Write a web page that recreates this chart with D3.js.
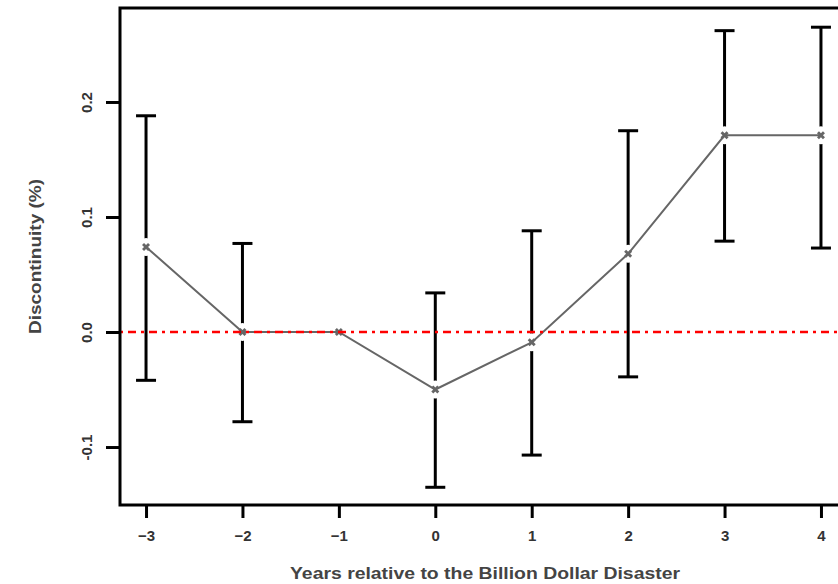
<!DOCTYPE html>
<html>
<head>
<meta charset="utf-8">
<script src="https://cdn.jsdelivr.net/npm/d3@7"></script>
<style>
  body { margin: 0; background: #fff; }
  svg { display: block; font-family: "Liberation Sans", Arial, sans-serif; }
</style>
</head>
<body>
<svg id="chart"></svg>
<script>
// Event-study estimates
const years = [-3, -2, -1, 0, 1, 2, 3, 4];
const estimate = [0.074, 0.000, 0.000, -0.050, -0.009, 0.068, 0.171, 0.171];
const lower = [-0.042, -0.078, null, -0.135, -0.107, -0.039, 0.079, 0.073];
const upper = [0.188, 0.077, null, 0.034, 0.088, 0.175, 0.262, 0.265];
const yTicks = [-0.1, 0.0, 0.1, 0.2];
const yTickLabels = ["-0.1", "0.0", "0.1", "0.2"];
const xTickLabels = ["\u22123", "\u22122", "\u22121", "0", "1", "2", "3", "4"];

const width = 838, height = 584;
const plotLeft = 120, plotRight = 847, plotTop = 8, plotBottom = 505;

const svg = d3.select("#chart")
    .attr("width", width)
    .attr("height", height);

// R style padded domains
const x = d3.scaleLinear().domain([-3.27, 4.27]).range([plotLeft, plotRight]);
const y = d3.scaleLinear().domain([-0.1504, 0.2817]).range([plotBottom, plotTop]);

const rows = years.map((yr, i) => ({ yr: yr, est: estimate[i], lo: lower[i], hi: upper[i] }));

// Error bars
const bars = svg.append("g").attr("stroke", "#000").attr("stroke-width", 3);
rows.filter(d => d.lo !== null).forEach(d => {
    bars.append("line")
        .attr("x1", x(d.yr)).attr("x2", x(d.yr))
        .attr("y1", y(d.lo)).attr("y2", y(d.hi));
    bars.append("line")
        .attr("x1", x(d.yr) - 10).attr("x2", x(d.yr) + 10)
        .attr("y1", y(d.lo)).attr("y2", y(d.lo));
    bars.append("line")
        .attr("x1", x(d.yr) - 10).attr("x2", x(d.yr) + 10)
        .attr("y1", y(d.hi)).attr("y2", y(d.hi));
});

// White halo around points (gaps in the bars)
svg.append("g").selectAll("circle").data(rows)
    .enter().append("circle")
    .attr("cx", d => x(d.yr))
    .attr("cy", d => y(d.est))
    .attr("r", 9)
    .attr("fill", "#fff");

// Connecting line
svg.append("path")
    .datum(rows)
    .attr("fill", "none")
    .attr("stroke", "#666")
    .attr("stroke-width", 2)
    .attr("d", d3.line().x(d => x(d.yr)).y(d => y(d.est)));

// Point markers
const star = d3.symbol().type(d3.symbolCross).size(40);
svg.append("g").selectAll("path").data(rows)
    .enter().append("path")
    .attr("transform", d => `translate(${x(d.yr)},${y(d.est)}) rotate(45)`)
    .attr("d", star)
    .attr("fill", "#666");

// Zero reference line
svg.append("line")
    .attr("x1", plotLeft).attr("x2", width)
    .attr("y1", y(0)).attr("y2", y(0))
    .attr("stroke", "#ff0000")
    .attr("stroke-width", 2.5)
    .attr("stroke-dasharray", "3,5,8,5");

// Plot frame
svg.append("rect")
    .attr("x", plotLeft).attr("y", plotTop)
    .attr("width", plotRight - plotLeft).attr("height", plotBottom - plotTop)
    .attr("fill", "none")
    .attr("stroke", "#000")
    .attr("stroke-width", 3);

// Axes
const xAxis = svg.append("g")
    .attr("transform", `translate(0,${plotBottom})`)
    .call(d3.axisBottom(x).tickValues(years).tickSize(13).tickPadding(12)
        .tickFormat((d, i) => xTickLabels[i]));
xAxis.select(".domain").remove();
xAxis.selectAll("line").attr("stroke-width", 3);
xAxis.selectAll("text")
    .style("font-size", "15px")
    .style("font-weight", "bold")
    .attr("fill", "#333");

const yAxis = svg.append("g")
    .attr("transform", `translate(${plotLeft},0)`)
    .call(d3.axisLeft(y).tickValues(yTicks).tickSize(14).tickPadding(0)
        .tickFormat((d, i) => yTickLabels[i]));
yAxis.select(".domain").remove();
yAxis.selectAll("line").attr("stroke-width", 3);
yAxis.selectAll("text")
    .style("font-size", "15px")
    .style("font-weight", "bold")
    .attr("fill", "#333")
    .attr("text-anchor", "middle")
    .attr("x", 0).attr("dy", 0)
    .attr("transform", "translate(-33,0) rotate(-90)")
    .attr("y", 5);

// Axis titles
svg.append("text")
    .attr("x", 485)
    .attr("y", 579)
    .attr("text-anchor", "middle")
    .attr("textLength", 390)
    .attr("lengthAdjust", "spacingAndGlyphs")
    .style("font-size", "17px")
    .style("font-weight", "bold")
    .attr("fill", "#444")
    .text("Years relative to the Billion Dollar Disaster");

svg.append("text")
    .attr("transform", `translate(41,${(plotTop + plotBottom) / 2}) rotate(-90)`)
    .attr("text-anchor", "middle")
    .attr("textLength", 155)
    .attr("lengthAdjust", "spacingAndGlyphs")
    .style("font-size", "17px")
    .style("font-weight", "bold")
    .attr("fill", "#444")
    .text("Discontinuity (%)");
</script>
</body>
</html>
